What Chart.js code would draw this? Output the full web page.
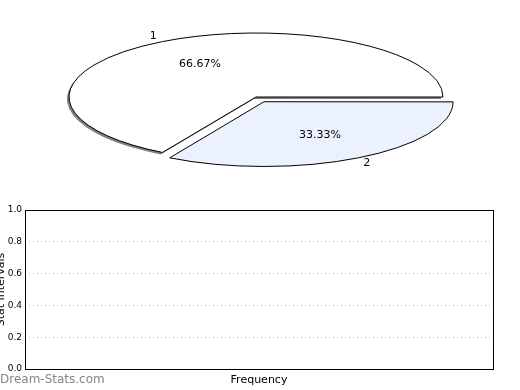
<!DOCTYPE html>
<html>
<head>
<meta charset="utf-8">
<script src="https://cdn.jsdelivr.net/npm/chart.js@4/dist/chart.umd.min.js"></script>
<style>
  body { margin: 0; background: #fff; }
  #wrap { position: relative; width: 520px; height: 390px; overflow: hidden; }
  #pie { position: absolute; left: 0; top: 0; }
  #axes { position: absolute; left: 0; top: 200px; }
  #mark { position: absolute; left: 0; top: 372px; font: 12px "DejaVu Sans", sans-serif; color: #858585; }
</style>
</head>
<body>
<div id="wrap">
  <canvas id="pie" width="520" height="200"></canvas>
  <canvas id="axes" width="520" height="190"></canvas>
  <div id="mark">Dream-Stats.com</div>
</div>
<script>
///data
var slice_labels = ['1', '2'];
var slice_values = [66.67, 33.33];
var slice_colors = ['#ffffff', '#ebf1fd'];
var slice_explode = [0, 16];
var y_ticks = [0, 0.2, 0.4, 0.6, 0.8, 1.0];

var squash = 64 / 187;   // ellipse height / width of the pie
var pie_r = 187;

///squashed pie: scale the path, keep stroke width
var squashPlugin = {
    id: 'squash',
    beforeDatasetsDraw: function(chart) {
        var ctx = chart.ctx;
        var arc = chart.getDatasetMeta(0).data[0];
        ctx.save();
        var base = ctx.getTransform();
        ctx.translate(arc.x, arc.y);
        ctx.scale(1, squash);
        ctx.translate(-arc.x, -arc.y);
        var origStroke = ctx.stroke;
        var origFill = ctx.fill;
        var fills = 0;
        ctx.stroke = function() {
            var m = ctx.getTransform();
            ctx.setTransform(base);
            origStroke.apply(ctx, arguments);
            ctx.setTransform(m);
        };
        // only the first slice gets the drop shadow
        ctx.fill = function() {
            if (fills === 0) {
                ctx.shadowColor = 'rgba(0,0,0,0.5)';
                ctx.shadowOffsetX = -2;
                ctx.shadowOffsetY = 2;
            }
            origFill.apply(ctx, arguments);
            ctx.shadowColor = 'rgba(0,0,0,0)';
            fills++;
        };
    },
    afterDatasetsDraw: function(chart) {
        var ctx = chart.ctx;
        delete ctx.stroke;
        delete ctx.fill;
        ctx.restore();
    },
    afterDraw: function(chart) {
        var ctx = chart.ctx;
        var meta = chart.getDatasetMeta(0);
        var total = slice_values.reduce(function(a, b){ return a + b; }, 0);
        ctx.save();
        ctx.font = '11px "DejaVu Sans", sans-serif';
        ctx.fillStyle = '#000';
        ctx.textAlign = 'center';
        ctx.textBaseline = 'middle';
        meta.data.forEach(function(arc, i) {
            var mid = (arc.startAngle + arc.endAngle) / 2;
            var off = slice_explode[i];
            var cx = arc.x + Math.cos(mid) * off;
            var cy = arc.y + Math.sin(mid) * off * squash;
            var pct = (slice_values[i] / total * 100).toFixed(2) + '%';
            ctx.fillText(pct, cx + Math.cos(mid) * pie_r * 0.6, cy + Math.sin(mid) * pie_r * 0.6 * squash);
            ctx.fillText(slice_labels[i], cx + Math.cos(mid) * pie_r * 1.1, cy + Math.sin(mid) * pie_r * 1.1 * squash);
        });
        ctx.restore();
    }
};

var pieChart = new Chart(document.getElementById('pie'), {
    type: 'pie',
    data: {
        labels: slice_labels,
        datasets: [{
            data: slice_values,
            backgroundColor: slice_colors,
            borderColor: '#000',
            borderWidth: 1,
            borderJoinStyle: 'miter',
            // chart.js moves an arc by offset / 4
            offset: slice_explode.map(function(v){ return v * 4; }),
            clip: false
        }]
    },
    options: {
        responsive: false,
        animation: false,
        rotation: 210,
        radius: pie_r,
        layout: { padding: { left: 0, right: 8, top: 0, bottom: 6 } },
        plugins: { legend: { display: false }, tooltip: { enabled: false } }
    },
    plugins: [squashPlugin]
});

///empty axes below
var framePlugin = {
    id: 'frame',
    afterDraw: function(chart) {
        var ctx = chart.ctx;
        var a = chart.chartArea;
        ctx.save();
        ctx.strokeStyle = '#000';
        ctx.lineWidth = 1;
        ctx.strokeRect(Math.round(a.left) + 0.5, Math.round(a.top) + 0.5, Math.round(a.right - a.left), Math.round(a.bottom - a.top));
        // y title, half cut by the left edge like the original
        ctx.translate(1, (a.top + a.bottom) / 2);
        ctx.rotate(-Math.PI / 2);
        ctx.font = '11px "DejaVu Sans", sans-serif';
        ctx.fillStyle = '#000';
        ctx.textAlign = 'center';
        ctx.textBaseline = 'middle';
        ctx.fillText('Stat Intervals', 0, 0);
        ctx.restore();
    }
};

var axesChart = new Chart(document.getElementById('axes'), {
    type: 'line',
    data: { datasets: [{ data: [] }] },
    options: {
        responsive: false,
        animation: false,
        layout: { padding: { left: 0, right: 27, top: 10, bottom: 0 } },
        plugins: { legend: { display: false }, tooltip: { enabled: false } },
        scales: {
            x: {
                type: 'linear', min: 0, max: 1,
                ticks: { display: false },
                grid: { display: false },
                border: { display: false },
                title: { display: true, text: 'Frequency', color: '#000',
                         font: { family: 'DejaVu Sans', size: 11 }, padding: { top: 0, bottom: 3 } },
                afterFit: function(scale) { scale.height = 21; }
            },
            y: {
                min: 0, max: 1,
                afterBuildTicks: function(scale) { scale.ticks = y_ticks.map(function(v){ return { value: v }; }); },
                ticks: {
                    color: '#000', padding: 3,
                    font: { family: 'DejaVu Sans', size: 9 },
                    callback: function(v) { return Number(v).toFixed(1); }
                },
                grid: {
                    drawTicks: false,
                    color: function(c) { return (c.tick.value > 0.01 && c.tick.value < 0.99) ? '#b8b8b8' : 'rgba(0,0,0,0)'; }
                },
                border: { display: false, dash: [1, 3] },
                afterFit: function(scale) { scale.width = 25; }
            }
        }
    },
    plugins: [framePlugin]
});
</script>
</body>
</html>
